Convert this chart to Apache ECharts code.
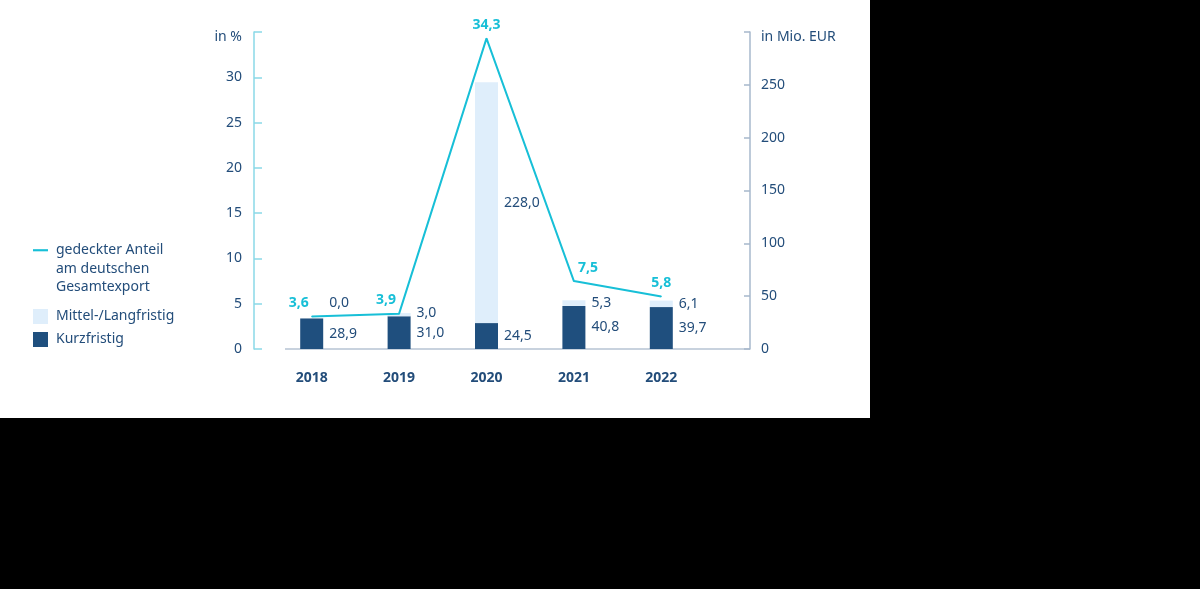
<!DOCTYPE html>
<html>
<head>
<meta charset="utf-8">
<script src="https://cdn.jsdelivr.net/npm/echarts@6/dist/echarts.min.js"></script>
<style>
  html, body { margin: 0; padding: 0; background: #000; }
  #chart { position: absolute; left: 0; top: 0; width: 870px; height: 418px; background: #fff; }
</style>
</head>
<body>
<div id="chart"></div>
<script>
// Werte aus der Vorlage
var years = ['2018', '2019', '2020', '2021', '2022'];
var kurzfristig = [28.9, 31.0, 24.5, 40.8, 39.7];   // Mio. EUR
var mittelLang = [0.0, 3.0, 228.0, 5.3, 6.1];       // Mio. EUR
var anteil = [3.6, 3.9, 34.3, 7.5, 5.8];            // in %

// Label-Verschiebungen (nur Optik)
var anteilOffsets = [[-13, 0], [-13, 0], [0, 0], [14, 0], [0, 0]];
var mittelOffsets = [[0, -15], [0, -2], [0, 0], [0, 0], [0, 0]];

var navy = '#1f4f7e';
var light = '#dfeefb';
var cyan = '#17bfd7';
var textColor = '#234d7a';
var font = '"Noto Sans", "Open Sans", sans-serif';

function fmt(v) {
    return v.toFixed(1).replace('.', ',');
}

var myChart = echarts.init(document.getElementById('chart'));

var option = {
    animation: false,
    textStyle: { fontFamily: font },
    grid: { left: 268, top: 32, width: 437, height: 317 },
    legend: [
        {
            left: 28,
            top: 199,
            orient: 'vertical',
            itemWidth: 15,
            itemHeight: 15,
            itemGap: 8,
            data: [{
                name: 'gedeckter Anteil am deutschen Gesamtexport',
                icon: 'path://M0,0 L14,0 L14,2 L0,2 Z',
                itemStyle: { color: cyan }
            }],
            // zwei Leerzeilen oben, damit das Symbol auf Höhe der ersten Zeile sitzt
            formatter: function () { return '\n\n{t|gedeckter Anteil}\n{t|am deutschen}\n{t|Gesamtexport}'; },
            textStyle: {
                color: textColor, fontSize: 14, fontFamily: font, lineHeight: 18.5,
                rich: { t: { color: textColor, fontSize: 14, fontFamily: font, lineHeight: 18.5, padding: [0, 0, 0, 3] } }
            }
        },
        {
            left: 28,
            top: 304,
            orient: 'vertical',
            itemWidth: 15,
            itemHeight: 15,
            itemGap: 8,
            data: [
                { name: 'Mittel-/Langfristig', icon: 'rect' },
                { name: 'Kurzfristig', icon: 'rect' }
            ],
            formatter: function (name) { return '{t|' + name + '}'; },
            textStyle: {
                color: textColor, fontSize: 14, fontFamily: font,
                rich: { t: { color: textColor, fontSize: 14, fontFamily: font, padding: [0, 0, 0, 3] } }
            }
        }
    ],
    xAxis: {
        type: 'category',
        data: years,
        axisLine: { show: false },
        axisTick: { show: false },
        axisLabel: { color: textColor, fontSize: 14, fontWeight: 'bold', margin: 22, fontFamily: font }
    },
    yAxis: [
        {
            type: 'value',
            position: 'left',
            offset: 14,
            min: 0,
            max: 35,
            interval: 5,
            name: 'in %',
            nameLocation: 'end',
            nameGap: -12,
            nameTextStyle: { color: textColor, fontSize: 14, align: 'right', padding: [0, 12, 0, 0], fontFamily: font },
            axisLine: { show: true, lineStyle: { color: '#8ad9e7', width: 1.5 } },
            axisTick: { show: true, inside: true, length: 8, lineStyle: { color: '#8ad9e7', width: 1.5 } },
            axisLabel: {
                color: textColor, fontSize: 14, margin: 12, fontFamily: font,
                formatter: function (v) { return v === 35 ? '' : v; }
            },
            splitLine: { show: false }
        },
        {
            type: 'value',
            position: 'right',
            offset: 45,
            min: 0,
            max: 300,
            interval: 50,
            name: 'in Mio. EUR',
            nameLocation: 'end',
            nameGap: -12,
            nameTextStyle: { color: textColor, fontSize: 14, align: 'left', padding: [0, 0, 0, 11], fontFamily: font },
            axisLine: { show: true, lineStyle: { color: '#a7b8cc', width: 1.5 } },
            axisTick: { show: true, inside: true, length: 6, lineStyle: { color: '#a7b8cc', width: 1.5 } },
            axisLabel: {
                color: textColor, fontSize: 14, margin: 11, fontFamily: font,
                formatter: function (v) { return v === 300 ? '' : v; }
            },
            splitLine: { show: false }
        }
    ],
    graphic: [{
        type: 'line',
        shape: { x1: 285, y1: 349, x2: 750, y2: 349 },
        style: { stroke: '#c8d2de', lineWidth: 2 },
        z: 0
    }],
    series: [
        {
            name: 'Kurzfristig',
            type: 'bar',
            yAxisIndex: 1,
            stack: 'summe',
            barWidth: 23,
            itemStyle: { color: navy },
            label: {
                show: true, position: 'right', distance: 6,
                color: textColor, fontSize: 14, fontFamily: font,
                formatter: function (p) { return fmt(p.value); }
            },
            data: kurzfristig,
            z: 2
        },
        {
            name: 'Mittel-/Langfristig',
            type: 'bar',
            yAxisIndex: 1,
            stack: 'summe',
            barWidth: 23,
            itemStyle: { color: light },
            data: mittelLang.map(function (v, i) {
                return {
                    value: v,
                    label: {
                        show: true, position: 'right', distance: 6, offset: mittelOffsets[i],
                        color: textColor, fontSize: 14, fontFamily: font,
                        formatter: function (p) { return fmt(p.value); }
                    }
                };
            }),
            z: 2
        },
        {
            name: 'gedeckter Anteil am deutschen Gesamtexport',
            type: 'line',
            yAxisIndex: 0,
            symbol: 'circle',
            symbolSize: 1,
            showSymbol: true,
            lineStyle: { color: cyan, width: 2 },
            itemStyle: { color: cyan },
            data: anteil.map(function (v, i) {
                return {
                    value: v,
                    label: {
                        show: true, position: 'top', distance: 6, offset: anteilOffsets[i],
                        color: cyan, fontSize: 14, fontWeight: 'bold', fontFamily: font,
                        formatter: function (p) { return fmt(p.value); }
                    }
                };
            }),
            z: 3
        }
    ]
};

myChart.setOption(option);
</script>
</body>
</html>
